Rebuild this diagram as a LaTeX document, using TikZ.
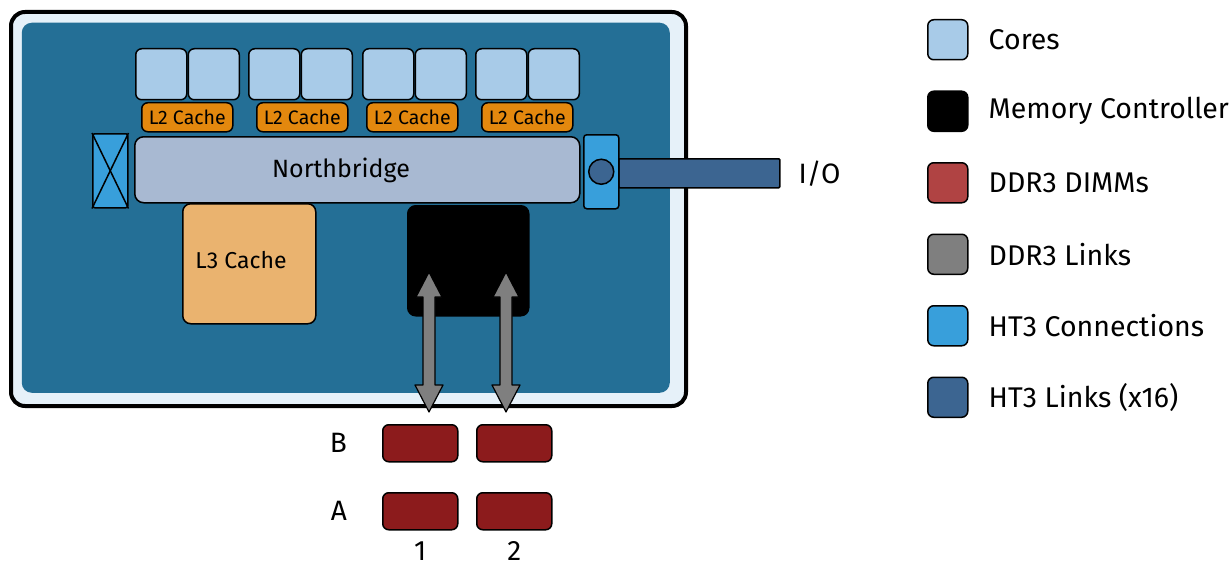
\documentclass[tikz,border=0pt]{standalone}
\usepackage{fontspec}
\setmainfont{Fira Sans}
\usetikzlibrary{positioning,calc}

\definecolor{chipedge}{HTML}{E6F1F9}
\definecolor{chipbg}{HTML}{246F96}
\definecolor{corecol}{HTML}{A8CBE8}
\definecolor{ltwocol}{HTML}{E3880E}
\definecolor{nbcol}{HTML}{A8B9D2}
\definecolor{lthreecol}{HTML}{EAB36F}
\definecolor{htconn}{HTML}{389FDB}
\definecolor{htlink}{HTML}{3C6591}
\definecolor{dimmcol}{HTML}{8C1B1C}
\definecolor{dimmkey}{HTML}{B04343}
\definecolor{linkcol}{HTML}{7F7F7F}

\begin{document}
\begin{tikzpicture}[x=1pt, y=-1pt,
    box/.style={draw, line width=1.5pt, rounded corners=6pt, inner sep=0pt, anchor=north west},
    core/.style={box, fill=corecol, minimum width=51pt, minimum height=51pt},
    ltwo/.style={box, fill=ltwocol, minimum width=91pt, minimum height=29pt, font=\fontsize{19.5}{22}\selectfont},
    dimm/.style={box, fill=dimmcol, minimum width=75pt, minimum height=37pt},
    key/.style={box, minimum width=40pt, minimum height=40pt},
    keytext/.style={inner sep=0pt, anchor=west, font=\fontsize{28.5}{32}\selectfont},
    lbl/.style={inner sep=0pt, font=\fontsize{28}{32}\selectfont},
    ddrlink/.style={draw, line width=1.2pt, fill=linkcol, line join=round}]

    \useasboundingbox (0,0) rectangle (1230,567);

    % Chip
    \node [box, line width=4pt, rounded corners=14pt, fill=chipedge, minimum width=675pt, minimum height=394pt] at (9,10) (chip) {};
    \node [box, draw=none, rounded corners=10pt, fill=chipbg, minimum width=648pt, minimum height=370pt] at (21,22) (die) {};

    % Cores
    \node [core] at (135,48) (c1) {};
    \node [core, right=0pt of c1] (c2) {};
    \node [core] at (248,48) (c3) {};
    \node [core, right=0pt of c3] (c4) {};
    \node [core] at (362,48) (c5) {};
    \node [core, right=0pt of c5] (c6) {};
    \node [core] at (475,48) (c7) {};
    \node [core, right=0pt of c7] (c8) {};

    % L2 caches
    \node [ltwo] at (141,102) (l2a) {L2 Cache};
    \node [ltwo] at (256,102) (l2b) {L2 Cache};
    \node [ltwo] at (366,102) (l2c) {L2 Cache};
    \node [ltwo] at (481,102) (l2d) {L2 Cache};

    % Northbridge and HT3
    \node [box, fill=nbcol, rounded corners=9pt, minimum width=445pt, minimum height=66pt] at (134,136) (nb) {};
    \node [inner sep=0pt, font=\fontsize{25}{30}\selectfont] at (341,170) (nblbl) {Northbridge};
    \node [box, fill=htconn, rounded corners=2pt, minimum width=35pt, minimum height=74pt] at (92,133) (htl) {};
    \draw [line width=1.5pt] (htl.north west) -- (htl.south east);
    \draw [line width=1.5pt] (htl.north east) -- (htl.south west);
    \node [box, fill=htlink, rounded corners=1pt, minimum width=161pt, minimum height=29pt] at (618,158) (io) {};
    \node [box, fill=htconn, rounded corners=3pt, minimum width=35pt, minimum height=74pt] at (583,134) (htr) {};
    \node [draw, circle, line width=1.5pt, fill=htlink, minimum size=25pt, inner sep=0pt] at (htr.center) (port) {};
    \node [lbl, right=18pt of io] (iolbl) {I/O};

    % L3 cache and memory controller
    \node [box, fill=lthreecol, rounded corners=8pt, minimum width=133pt, minimum height=120pt] at (182,203) (l3) {};
    \node [inner sep=0pt, font=\fontsize{23}{27}\selectfont] at (241,260) (l3lbl) {L3 Cache};
    \node [box, fill=black, rounded corners=8pt, minimum width=121pt, minimum height=110pt] at (407,205) (mc) {};

    % DIMMs
    \node [dimm] at (382,424) (b1) {};
    \node [dimm] at (476,424) (b2) {};
    \node [dimm] at (382,492) (a1) {};
    \node [dimm] at (476,492) (a2) {};
    \node [lbl, left=35pt of b1] (blbl) {B};
    \node [lbl, left=35pt of a1] (albl) {A};
    \node [lbl, below=11pt of a1] (onelbl) {1};
    \node [lbl, below=11pt of a2] (twolbl) {2};

    % DDR3 links
    \coordinate (l1t) at (429,272);
    \coordinate (l1b) at (429,412);
    \coordinate (l2t) at (506,272);
    \coordinate (l2b) at (506,412);
    \draw [ddrlink] let \p1=(l1t), \p2=(l1b) in
        (\p1) -- (\x1+13pt,\y1-25pt) -- (\x1+6pt,\y1-25pt) -- (\x1+6pt,\y2+27pt)
        -- (\x1+14pt,\y2+27pt) -- (\p2) -- (\x1-14pt,\y2+27pt) -- (\x1-6pt,\y2+27pt)
        -- (\x1-6pt,\y1-25pt) -- (\x1-13pt,\y1-25pt) -- cycle;
    \draw [ddrlink] let \p1=(l2t), \p2=(l2b) in
        (\p1) -- (\x1+13pt,\y1-25pt) -- (\x1+6pt,\y1-25pt) -- (\x1+6pt,\y2+27pt)
        -- (\x1+14pt,\y2+27pt) -- (\p2) -- (\x1-14pt,\y2+27pt) -- (\x1-6pt,\y2+27pt)
        -- (\x1-6pt,\y1-25pt) -- (\x1-13pt,\y1-25pt) -- cycle;

    % Legend
    \node [key, fill=corecol] at (927,19) (k1) {};
    \node [key, fill=black, below=30pt of k1] (k2) {};
    \node [key, fill=dimmkey, below=30pt of k2] (k3) {};
    \node [key, fill=linkcol, below=30pt of k3] (k4) {};
    \node [key, fill=htconn, below=30pt of k4] (k5) {};
    \node [key, fill=htlink, below=30pt of k5] (k6) {};
    \node [keytext, right=20pt of k1] {Cores};
    \node [keytext, right=20pt of k2] {Memory Controller};
    \node [keytext, right=20pt of k3] {DDR3 DIMMs};
    \node [keytext, right=20pt of k4] {DDR3 Links};
    \node [keytext, right=20pt of k5] {HT3 Connections};
    \node [keytext, right=20pt of k6] {HT3 Links (x16)};

\end{tikzpicture}
\end{document}
